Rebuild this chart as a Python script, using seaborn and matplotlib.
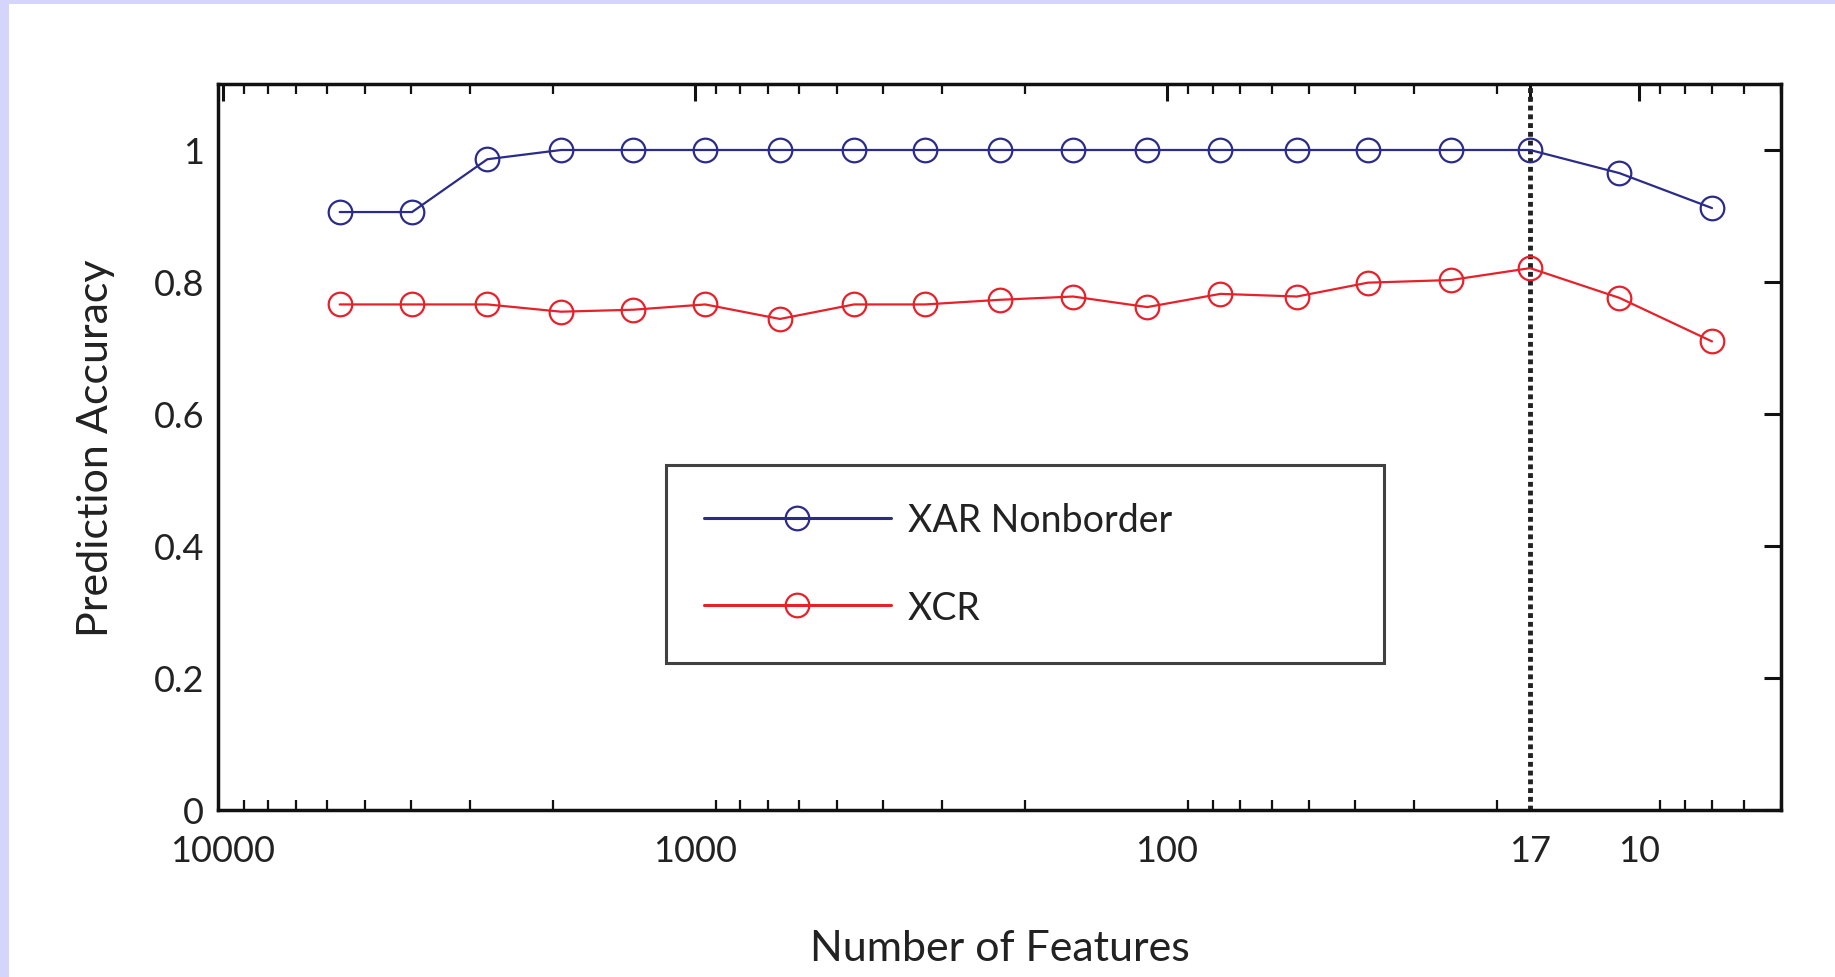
import matplotlib
matplotlib.use("Agg")
import matplotlib.pyplot as plt
from matplotlib.patches import Rectangle
from matplotlib.lines import Line2D
from matplotlib.ticker import FixedLocator, LogLocator, NullFormatter, FixedFormatter
import seaborn as sns
import pandas as pd

# Number of features retained at each elimination step
features = [5650, 3970, 2750, 1920, 1350, 950, 660, 460, 325, 226, 158, 110,
            77, 53, 37.5, 25, 17, 11, 7]
xar_nonborder = [0.906, 0.906, 0.986, 1.0, 1.0, 1.0, 1.0, 1.0, 1.0, 1.0, 1.0,
                 1.0, 1.0, 1.0, 1.0, 1.0, 1.0, 0.965, 0.912]
xcr = [0.766, 0.766, 0.766, 0.755, 0.758, 0.766, 0.744, 0.766, 0.766, 0.773,
       0.778, 0.762, 0.782, 0.778, 0.799, 0.803, 0.821, 0.776, 0.710]
series_names = ["XAR Nonborder", "XCR"]
series_colors = ["#2b2b8c", "#e8202a"]
selected = 17
x_ticks = [10000, 1000, 100, 17, 10]
x_tick_labels = ["10000", "1000", "100", "17", "10"]
y_ticks = [0, 0.2, 0.4, 0.6, 0.8, 1.0]
y_tick_labels = ["0", "0.2", "0.4", "0.6", "0.8", "1"]

df = pd.concat([
    pd.DataFrame({"features": features, "accuracy": xar_nonborder, "series": series_names[0]}),
    pd.DataFrame({"features": features, "accuracy": xcr, "series": series_names[1]}),
])

sns.set_theme(style="white")
plt.rcParams["font.family"] = ["Lato", "DejaVu Sans"]

TEXT = "#222222"
INK = "#111111"
MS = 17
LW = 1.6

fig = plt.figure(figsize=(18.35, 9.78), dpi=100)
fig.patch.set_facecolor("white")
# light lavender page edge
fig.patches.append(Rectangle((0, 0), 9 / 1835, 1, transform=fig.transFigure,
                             facecolor="#d5d5fb", edgecolor="none", zorder=0))
fig.patches.append(Rectangle((0, 1 - 5 / 978), 1, 5 / 978, transform=fig.transFigure,
                             facecolor="#d5d5fb", edgecolor="none", zorder=0))

ax = fig.add_axes([218 / 1835, 1 - 811 / 978, (1781 - 218) / 1835, (811 - 85) / 978])

sns.lineplot(data=df, x="features", y="accuracy", hue="series",
             palette=dict(zip(series_names, series_colors)), hue_order=series_names,
             marker="o", markersize=MS, markerfacecolor="none", markeredgewidth=LW,
             linewidth=LW, ax=ax, sort=False, estimator=None, legend=False)
for line, c in zip(ax.get_lines(), series_colors):
    line.set_markeredgecolor(c)

ax.axvline(selected, color="#222222", linestyle=(0, (1, 0.8)), linewidth=3.5, zorder=1)

ax.set_xscale("log")
ax.set_xlim(10230, 5.0)
ax.set_ylim(0, 1.1)
ax.xaxis.set_major_locator(FixedLocator(x_ticks))
ax.xaxis.set_major_formatter(FixedFormatter(x_tick_labels))
ax.xaxis.set_minor_locator(LogLocator(base=10, subs=range(2, 10)))
ax.xaxis.set_minor_formatter(NullFormatter())
ax.set_yticks(y_ticks)
ax.set_yticklabels(y_tick_labels)

for s in ax.spines.values():
    s.set_color(INK)
    s.set_linewidth(2.5)
    s.set_visible(True)

ax.tick_params(axis="both", which="major", direction="in", length=12, width=2.2,
               color=INK, top=True, right=True, labelsize=26, labelcolor=TEXT)
ax.tick_params(axis="x", which="major", pad=17)
ax.tick_params(axis="y", which="major", pad=10)
ax.tick_params(axis="x", which="minor", direction="in", length=7, width=1.6,
               color=INK, top=True, bottom=True)

ax.set_xlabel("Number of Features", fontsize=31, color=TEXT, labelpad=45)
ax.set_ylabel("Prediction Accuracy", fontsize=31, color=TEXT, labelpad=28)

handles = [Line2D([], [], color=c, marker="o", markersize=MS, markerfacecolor="none",
                  markeredgecolor=c, markeredgewidth=LW, linewidth=2.2)
           for c in series_colors]
leg = ax.legend(handles, series_names, loc="upper left",
                bbox_to_anchor=((666 - 218) / 1563, (811 - 466) / 726, (1384 - 666) / 1563, 0),
                mode="expand", fontsize=27, frameon=True, fancybox=False,
                handlelength=5.0, handletextpad=0.45, labelspacing=1.36,
                borderpad=1.0, borderaxespad=0)
leg.get_frame().set_edgecolor(INK)
leg.get_frame().set_linewidth(2.2)
for t in leg.get_texts():
    t.set_color(TEXT)

fig.savefig("out.png", dpi=100, facecolor="white")
